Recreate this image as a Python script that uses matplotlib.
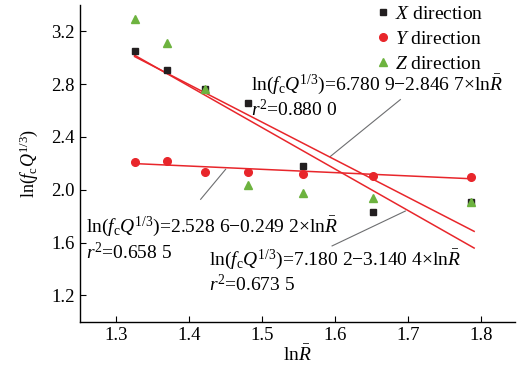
import matplotlib
matplotlib.use("Agg")
import matplotlib.pyplot as plt
import numpy as np

plt.rcParams['font.family'] = ['Liberation Serif', 'DejaVu Serif']
plt.rcParams['mathtext.fontset'] = 'custom'
plt.rcParams['mathtext.rm'] = 'Liberation Serif'
plt.rcParams['mathtext.it'] = 'Liberation Serif:italic'
plt.rcParams['mathtext.bf'] = 'Liberation Serif:bold'

# data
ln_r = [1.325, 1.370, 1.421, 1.481, 1.555, 1.652, 1.786]
x_dir = [3.054, 2.910, 2.760, 2.660, 2.180, 1.835, 1.910]
y_dir = [2.213, 2.220, 2.137, 2.137, 2.117, 2.107, 2.100]
z_dir = [3.290, 3.110, 2.765, 2.033, 1.978, 1.935, 1.910]

# fitted lines given in the chart: intercept, slope
fit_intercepts = [6.7809, 2.5286, 7.1802]
fit_slopes = [-2.8467, -0.2492, -3.1404]
fit_x = [1.325, 1.79]

black = '#231f20'
red = '#e8262b'
green = '#6db33f'
gray = '#6d6e70'

fig = plt.figure(figsize=(5.25, 3.76), dpi=100)
ax = fig.add_axes([0.152, 0.144, 0.829, 0.843])

for b, m in zip(fit_intercepts, fit_slopes):
    xs = np.array(fit_x)
    ax.plot(xs, b + m * xs, color=red, lw=1.1, zorder=2)

ax.plot(ln_r, x_dir, 's', color=black, ms=4.6, label='$X$ direction', zorder=3)
ax.plot(ln_r, y_dir, 'o', color=red, ms=5.5, label='$Y$ direction', zorder=3)
ax.plot(ln_r, z_dir, '^', color=green, ms=6, label='$Z$ direction', zorder=4)

# leader lines
ax.plot([1.689, 1.593], [2.683, 2.252], color=gray, lw=0.8, zorder=1)
ax.plot([1.4155, 1.4497], [1.928, 2.155], color=gray, lw=0.8, zorder=1)
ax.plot([1.5955, 1.6958], [1.575, 1.839], color=gray, lw=0.8, zorder=1)

fs = 14
tfs = 13.5
lhs = r'ln($f_\mathrm{c}Q^{1/3}$)'
rbar = r'ln$\bar{R}$'
ax.text(1.4847, 2.797, lhs + '=6.780 9\u22122.846 7\u00d7' + rbar, fontsize=fs, va='center')
ax.text(1.4847, 2.607, '$r^2$=0.880 0', fontsize=fs, va='center')
ax.text(1.258, 1.724, lhs + '=2.528 6\u22120.249 2\u00d7' + rbar, fontsize=fs, va='center')
ax.text(1.258, 1.527, '$r^2$=0.658 5', fontsize=fs, va='center')
ax.text(1.4276, 1.475, lhs + '=7.180 2\u22123.140 4\u00d7' + rbar, fontsize=fs, va='center')
ax.text(1.4276, 1.285, '$r^2$=0.673 5', fontsize=fs, va='center')

ax.set_xlim(1.25, 1.846)
ax.set_ylim(1.0, 3.4)
ax.set_xticks([1.3, 1.4, 1.5, 1.6, 1.7, 1.8])
ax.set_yticks([1.2, 1.6, 2.0, 2.4, 2.8, 3.2])
ax.tick_params(direction='in', length=4, labelsize=tfs, width=0.8)
ax.spines['top'].set_visible(False)
ax.spines['right'].set_visible(False)
for s in ['left', 'bottom']:
    ax.spines[s].set_linewidth(1.0)

ax.set_xlabel(rbar, fontsize=fs, labelpad=1)
ax.set_ylabel(lhs, fontsize=13, labelpad=8)

ax.legend(loc='upper right', bbox_to_anchor=(0.955, 1.035), frameon=False,
          fontsize=fs, handletextpad=0.15, labelspacing=0.38, handlelength=1.0,
          borderaxespad=0.2)

fig.savefig('out.png', dpi=100)
